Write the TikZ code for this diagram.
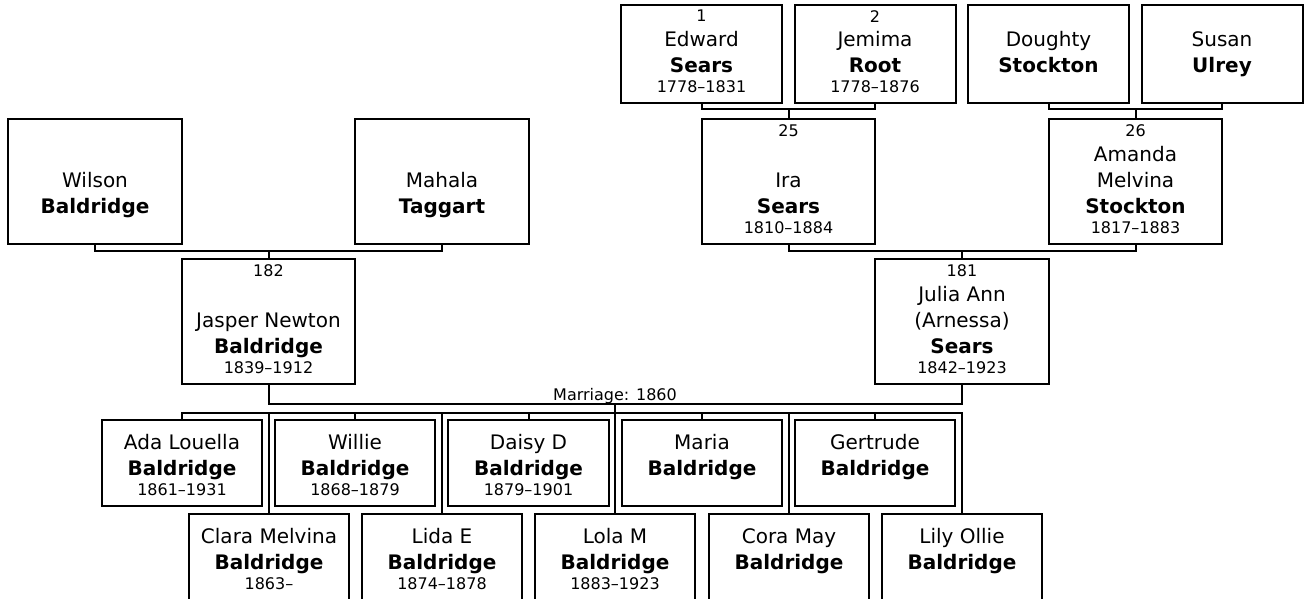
\documentclass[tikz,border=0pt]{standalone}
\usepackage{fontspec}
\setmainfont{DejaVu Sans}
\usetikzlibrary{positioning}
\newcommand{\namefont}{\fontsize{20}{26}\selectfont}
\newcommand{\yearfont}{\fontsize{16}{20}\selectfont}
\newcommand{\lifespan}[1]{{\yearfont\strut #1}}

\begin{document}
\begin{tikzpicture}[x=1pt, y=-1pt, line width=2pt,
  elder/.style={draw, minimum width=161pt, minimum height=98pt, inner sep=0pt},
  adult/.style={draw, minimum width=173.5pt, minimum height=124.5pt, inner sep=0pt},
  kid/.style={draw, minimum width=160.5pt, minimum height=86pt, inner sep=0pt},
  who/.style={font=\namefont, align=center, inner sep=0pt},
  num/.style={font=\yearfont, inner sep=0pt}]

  \useasboundingbox (0,0) rectangle (1307,598);

  \node[elder] (edward) at (701.5,53.7) {};
  \node[num, below=5.6pt of edward.north] (edward-no) {1};
  \node[who, above=4.2pt of edward.south] (edward-t) {Edward\\\textbf{Sears}\\[-5.5pt]\lifespan{1778--1831}};
  \node[elder] (jemima) at (875,53.7) {};
  \node[num, below=5.6pt of jemima.north] (jemima-no) {2};
  \node[who, above=4.2pt of jemima.south] (jemima-t) {Jemima\\\textbf{Root}\\[-5.5pt]\lifespan{1778--1876}};
  \node[elder] (doughty) at (1048.5,53.7) {};
  \node[who, above=4.2pt of doughty.south] (doughty-t) {Doughty\\\textbf{Stockton}\\[-5.5pt]\lifespan{}};
  \node[elder] (susan) at (1222,53.7) {};
  \node[who, above=4.2pt of susan.south] (susan-t) {Susan\\\textbf{Ulrey}\\[-5.5pt]\lifespan{}};

  \node[adult] (wilson) at (95,181.5) {};
  \node[who, above=4.2pt of wilson.south] (wilson-t) {Wilson\\\textbf{Baldridge}\\[-5.5pt]\lifespan{}};
  \node[adult] (mahala) at (442,181.5) {};
  \node[who, above=4.2pt of mahala.south] (mahala-t) {Mahala\\\textbf{Taggart}\\[-5.5pt]\lifespan{}};
  \node[adult] (ira) at (788.5,181.5) {};
  \node[num, below=5.6pt of ira.north] (ira-no) {25};
  \node[who, above=4.2pt of ira.south] (ira-t) {Ira\\\textbf{Sears}\\[-5.5pt]\lifespan{1810--1884}};
  \node[adult] (amanda) at (1135.5,181.5) {};
  \node[num, below=5.6pt of amanda.north] (amanda-no) {26};
  \node[who, above=4.2pt of amanda.south] (amanda-t) {Amanda\\Melvina\\\textbf{Stockton}\\[-5.5pt]\lifespan{1817--1883}};

  \node[adult] (jasper) at (268.5,321.5) {};
  \node[num, below=5.6pt of jasper.north] (jasper-no) {182};
  \node[who, above=4.2pt of jasper.south] (jasper-t) {Jasper Newton\\\textbf{Baldridge}\\[-5.5pt]\lifespan{1839--1912}};
  \node[adult] (julia) at (962,321.5) {};
  \node[num, below=5.6pt of julia.north] (julia-no) {181};
  \node[who, above=4.2pt of julia.south] (julia-t) {Julia Ann\\(Arnessa)\\\textbf{Sears}\\[-5.5pt]\lifespan{1842--1923}};

  \node[kid] (ada) at (182,463) {};
  \node[who, above=4.2pt of ada.south] (ada-t) {Ada Louella\\\textbf{Baldridge}\\[-5.5pt]\lifespan{1861--1931}};
  \node[kid] (willie) at (355,463) {};
  \node[who, above=4.2pt of willie.south] (willie-t) {Willie\\\textbf{Baldridge}\\[-5.5pt]\lifespan{1868--1879}};
  \node[kid] (daisy) at (528.5,463) {};
  \node[who, above=4.2pt of daisy.south] (daisy-t) {Daisy D\\\textbf{Baldridge}\\[-5.5pt]\lifespan{1879--1901}};
  \node[kid] (maria) at (702,463) {};
  \node[who, above=4.2pt of maria.south] (maria-t) {Maria\\\textbf{Baldridge}\\[-5.5pt]\lifespan{}};
  \node[kid] (gertrude) at (875,463) {};
  \node[who, above=4.2pt of gertrude.south] (gertrude-t) {Gertrude\\\textbf{Baldridge}\\[-5.5pt]\lifespan{}};

  \node[kid] (clara) at (269,557) {};
  \node[who, above=4.2pt of clara.south] (clara-t) {Clara Melvina\\\textbf{Baldridge}\\[-5.5pt]\lifespan{1863--}};
  \node[kid] (lida) at (442,557) {};
  \node[who, above=4.2pt of lida.south] (lida-t) {Lida E\\\textbf{Baldridge}\\[-5.5pt]\lifespan{1874--1878}};
  \node[kid] (lola) at (615,557) {};
  \node[who, above=4.2pt of lola.south] (lola-t) {Lola M\\\textbf{Baldridge}\\[-5.5pt]\lifespan{1883--1923}};
  \node[kid] (cora) at (789,557) {};
  \node[who, above=4.2pt of cora.south] (cora-t) {Cora May\\\textbf{Baldridge}\\[-5.5pt]\lifespan{}};
  \node[kid] (lily) at (962,557) {};
  \node[who, above=4.2pt of lily.south] (lily-t) {Lily Ollie\\\textbf{Baldridge}\\[-5.5pt]\lifespan{}};

  % parent couples
  \coordinate (e-bus) at (788.5,108.5);
  \coordinate (d-bus) at (1135.5,108.5);
  \coordinate (w-bus) at (268.5,251);
  \coordinate (i-bus) at (962,251);
  \draw (edward.south) |- (e-bus) -| (jemima.south);
  \draw (e-bus) -- (ira.north);
  \draw (doughty.south) |- (d-bus) -| (susan.south);
  \draw (d-bus) -- (amanda.north);
  \draw (wilson.south) |- (w-bus) -| (mahala.south);
  \draw (w-bus) -- (jasper.north);
  \draw (ira.south) |- (i-bus) -| (amanda.south);
  \draw (i-bus) -- (julia.north);

  % marriage and children
  \coordinate (marr) at (615,404);
  \coordinate (kids) at (615,413);
  \draw (jasper.south) |- (marr) -| (julia.south);
  \node[num, anchor=base, yshift=3.5pt] (marr-t) at (marr) {Marriage: 1860};
  \draw (marr) -- (lola.north);
  \draw (ada.north) |- (kids) -| (lily.north);
  \draw (willie.north) -- (willie.north |- kids);
  \draw (daisy.north) -- (daisy.north |- kids);
  \draw (maria.north) -- (maria.north |- kids);
  \draw (gertrude.north) -- (gertrude.north |- kids);
  \draw (clara.north) -- (clara.north |- kids);
  \draw (lida.north) -- (lida.north |- kids);
  \draw (cora.north) -- (cora.north |- kids);
\end{tikzpicture}
\end{document}
